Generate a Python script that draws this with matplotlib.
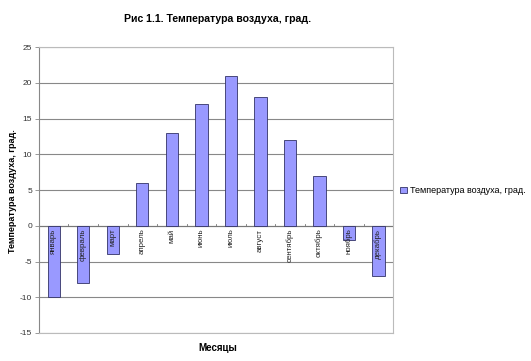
import matplotlib
matplotlib.use("Agg")
import matplotlib.pyplot as plt
from matplotlib.patches import Patch

plt.rcParams['font.family'] = ['Liberation Sans', 'DejaVu Sans']

months = ["январь", "февраль", "март", "апрель", "май", "июнь", "июль",
          "август", "сентябрь", "октябрь", "ноябрь", "декабрь"]
temps = [-10, -8, -4, 6, 13, 17, 21, 18, 12, 7, -2, -7]
yticks = [-15, -10, -5, 0, 5, 10, 15, 20, 25]

fig = plt.figure(figsize=(5.31, 3.61), dpi=100)
ax = fig.add_axes([0.0734, 0.0776, 0.667, 0.792])

x = list(range(len(months)))
ax.bar(x, temps, width=0.42, color="#9999ff", edgecolor="#333366", linewidth=0.6, zorder=2)

ax.set_xlim(-0.5, len(months) - 0.5)
ax.set_ylim(-15, 25)
ax.set_yticks(yticks)
ax.set_yticklabels([str(v) for v in yticks], fontsize=6, color="#333333")
ax.yaxis.grid(True, color="#888888", linewidth=0.8, zorder=0)
ax.set_axisbelow(True)
ax.tick_params(axis='y', length=3, width=0.6, color="#888888", pad=2)

for s in ["top", "right", "bottom"]:
    ax.spines[s].set_color("#bbbbbb")
    ax.spines[s].set_linewidth(0.8)
ax.spines["left"].set_color("#888888")
ax.spines["left"].set_linewidth(0.8)

# x axis at zero
ax.axhline(0, color="#777777", linewidth=0.8, zorder=1)
ax.set_xticks([])
for i in range(len(months) + 1):
    ax.plot([i - 0.5, i - 0.5], [0, 0.3], color="#777777", linewidth=0.6, zorder=1)
for i, m in enumerate(months):
    ax.text(i, -0.4, m, rotation=90, ha="center", va="top", fontsize=5.7, color="#222222", zorder=3)

fig.text(0.024, 0.471, "Температура воздуха, град.", rotation=90, ha="center", va="center",
         fontsize=6.5, fontweight="bold")
fig.text(0.41, 0.035, "Месяцы", ha="center", va="center", fontsize=7, fontweight="bold")
fig.text(0.41, 0.948, "Рис 1.1. Температура воздуха, град.", ha="center", va="center",
         fontsize=7.6, fontweight="bold")

handle = Patch(facecolor="#9999ff", edgecolor="#333366", linewidth=0.6)
fig.legend([handle], ["Температура воздуха, град."], loc="center left",
           bbox_to_anchor=(0.738, 0.472), frameon=False, fontsize=6.5,
           handlelength=0.8, handleheight=0.8, handletextpad=0.3)

fig.savefig("out.png", dpi=100)
